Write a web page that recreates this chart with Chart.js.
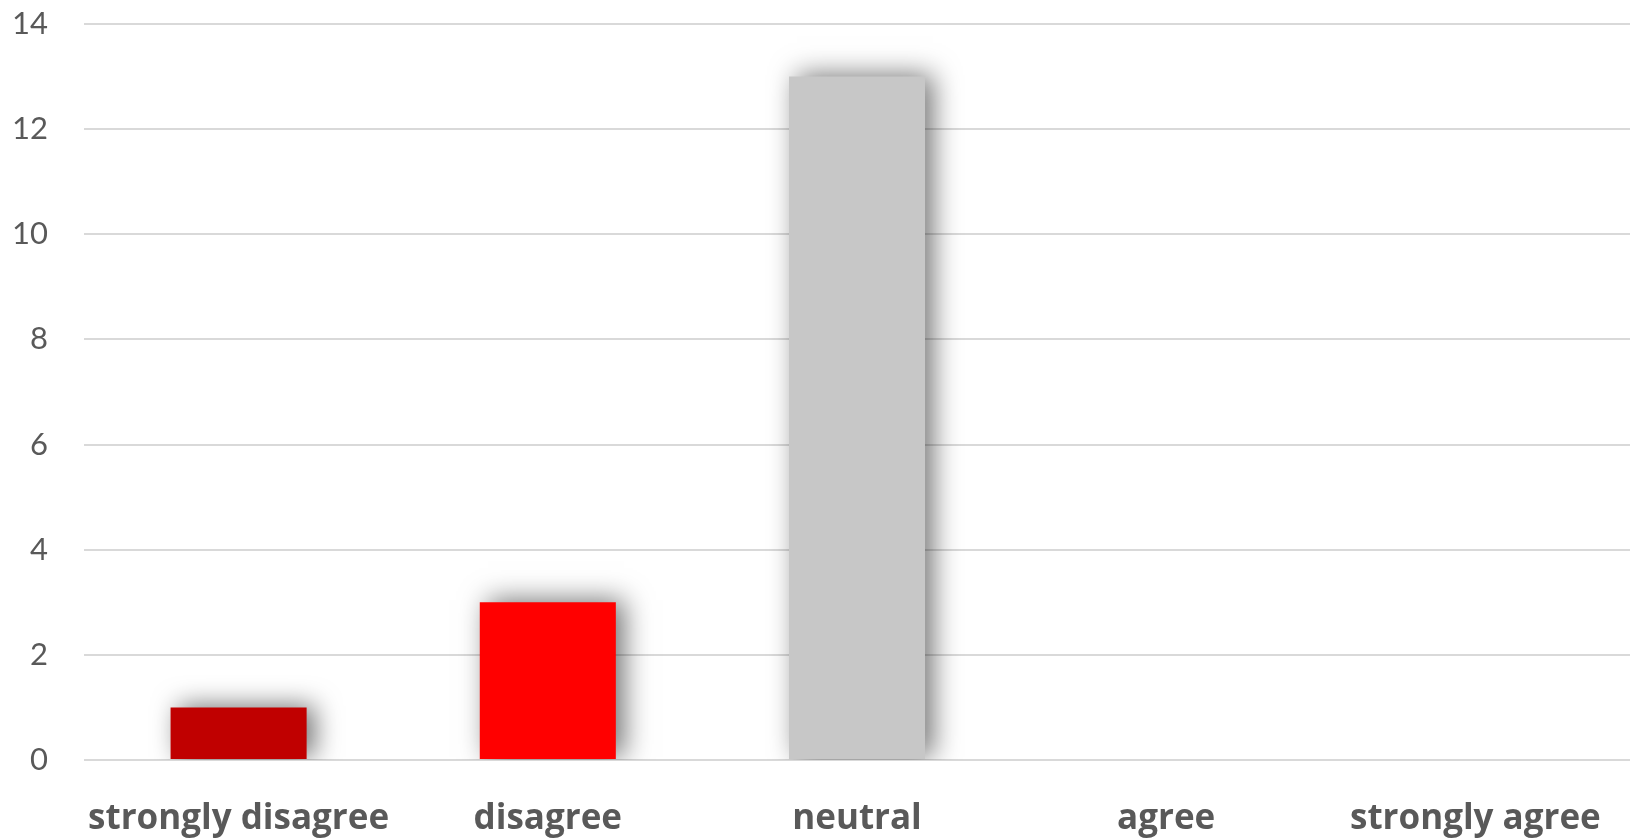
<!DOCTYPE html>
<html>
<head>
<meta charset="utf-8">
<script src="https://cdn.jsdelivr.net/npm/chart.js@4"></script>
<style>
    html, body { margin: 0; padding: 0; background: #ffffff; }
    #wrap { width: 1634px; height: 838px; position: relative; }
</style>
</head>
<body>
<div id="wrap"><canvas id="chart"></canvas></div>
<script>
const categories = ['strongly disagree', 'disagree', 'neutral', 'agree', 'strongly agree'];
const responses = [1, 3, 13, 0, 0];
const barColors = ['#C00000', '#FF0000', '#C7C7C7', '#A6A6A6', '#7F7F7F'];
const yTicks = [0, 2, 4, 6, 8, 10, 12, 14];

// soft shadow behind the bars, like the office chart
const barShadow = {
    id: 'barShadow',
    beforeDatasetsDraw(chart) {
        const ctx = chart.ctx;
        ctx.save();
        ctx.shadowColor = 'rgba(0, 0, 0, 0.55)';
        ctx.shadowBlur = 26;
        ctx.shadowOffsetX = 8;
        ctx.shadowOffsetY = -2;
    },
    afterDatasetsDraw(chart) {
        chart.ctx.restore();
    }
};

new Chart(document.getElementById('chart').getContext('2d'), {
    type: 'bar',
    data: {
        labels: categories,
        datasets: [{
            data: responses,
            backgroundColor: barColors,
            borderWidth: 0,
            barPercentage: 0.44,
            categoryPercentage: 1
        }]
    },
    plugins: [barShadow],
    options: {
        responsive: true,
        maintainAspectRatio: false,
        animation: false,
        layout: { padding: { top: 24, right: 4, left: 0, bottom: 0 } },
        plugins: {
            legend: { display: false },
            tooltip: { enabled: false }
        },
        scales: {
            x: {
                grid: { display: false },
                border: { display: false },
                ticks: {
                    color: '#595959',
                    padding: 30,
                    font: { family: 'Open Sans', size: 35, weight: 'bold' },
                    maxRotation: 0,
                    autoSkip: false
                },
                afterFit: (scale) => { scale.height = 78; }
            },
            y: {
                min: 0,
                max: 14,
                afterBuildTicks: (scale) => { scale.ticks = yTicks.map(v => ({ value: v })); },
                grid: { color: '#D9D9D9', lineWidth: 2, drawTicks: false },
                border: { display: false },
                ticks: {
                    color: '#595959',
                    padding: 36,
                    font: { family: 'Lato', size: 31 }
                },
                afterFit: (scale) => {
                    scale.width = 84;
                    // tick padding would otherwise push the plot down
                    scale.paddingTop = 0;
                    scale.paddingBottom = 0;
                }
            }
        }
    }
});
</script>
</body>
</html>
